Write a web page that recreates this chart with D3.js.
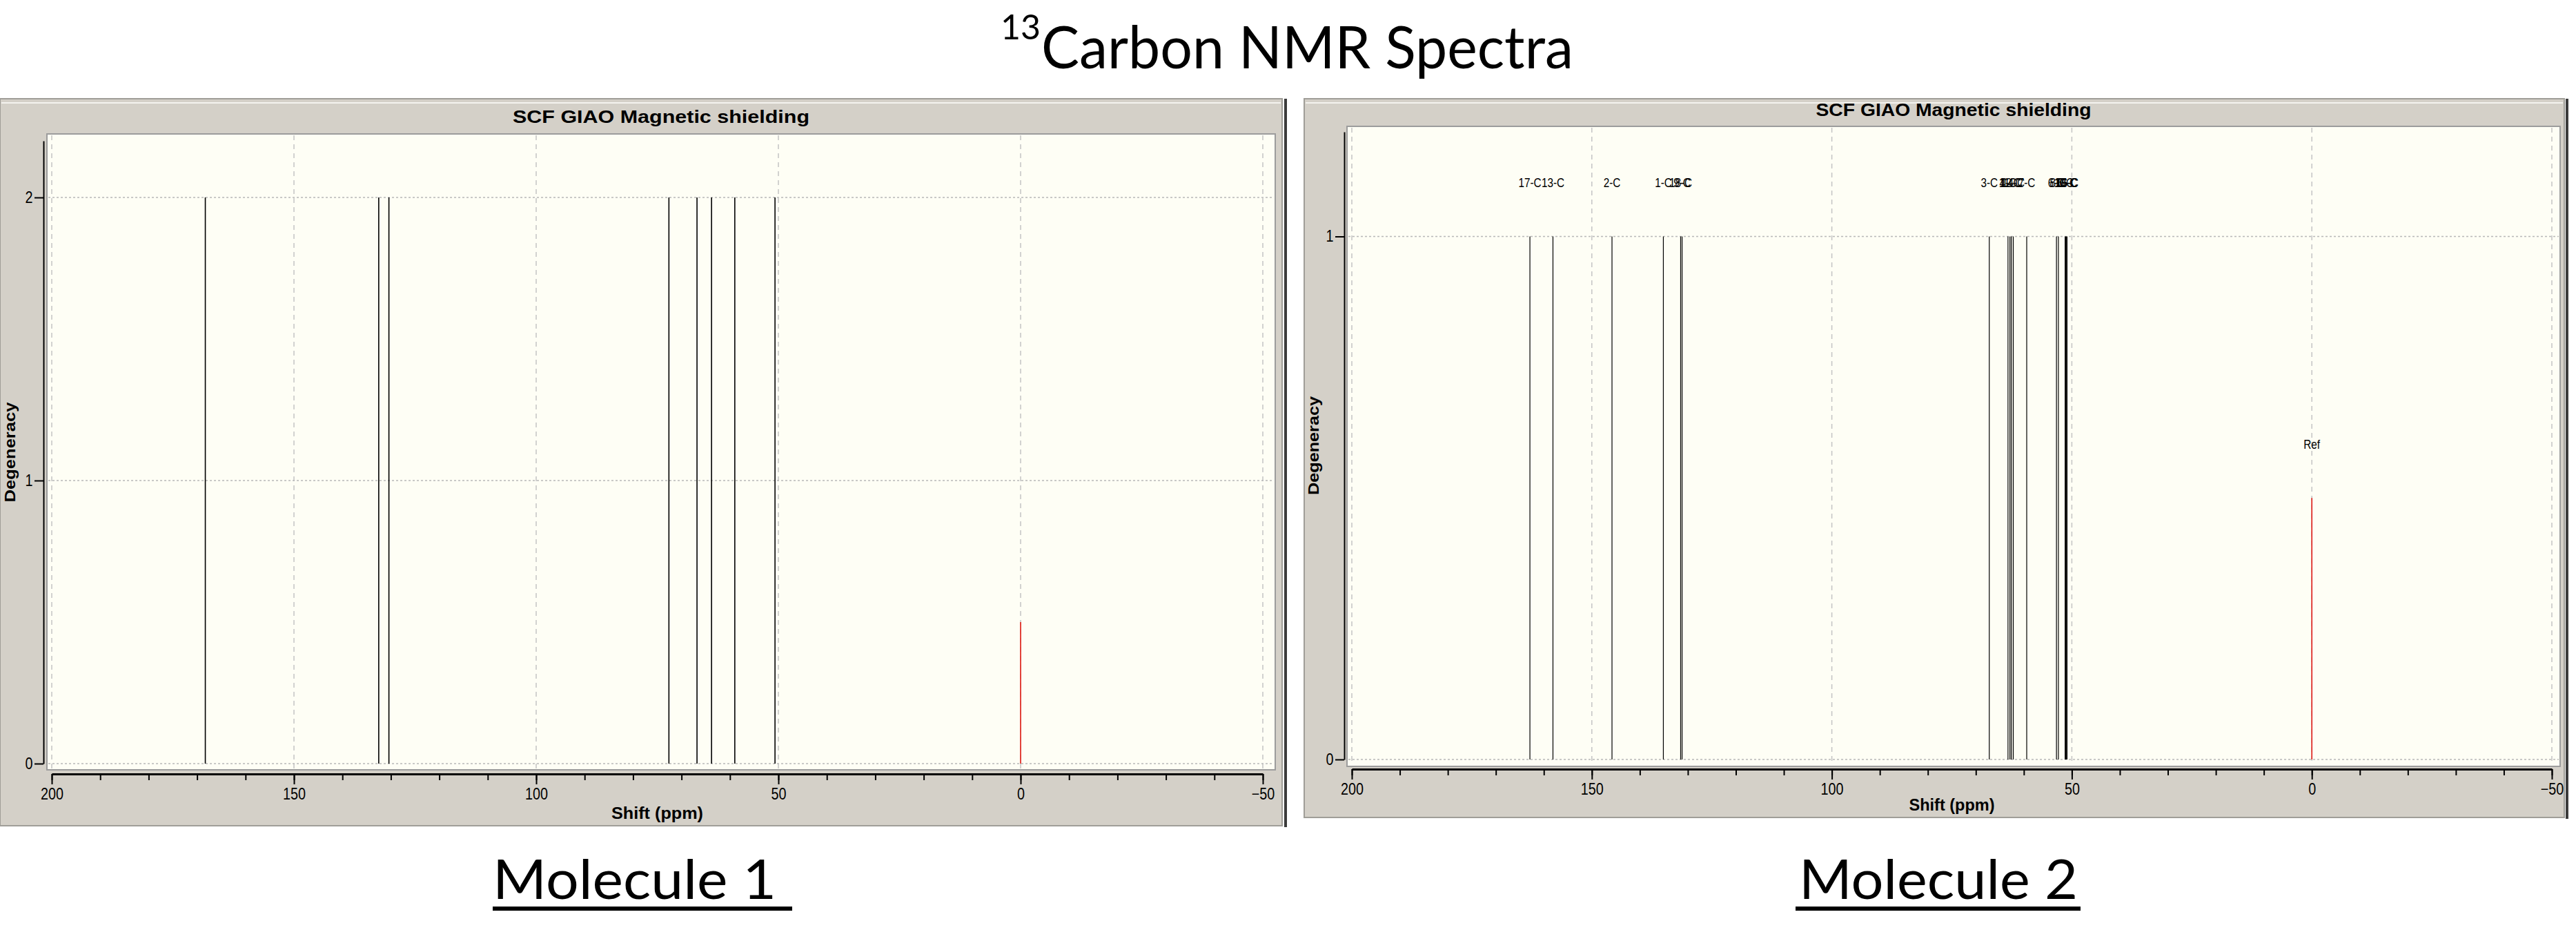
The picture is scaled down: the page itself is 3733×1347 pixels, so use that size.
<!DOCTYPE html>
<html>
<head>
<meta charset="utf-8">
<script src="https://cdn.jsdelivr.net/npm/d3@7"></script>
<style>
  body { margin: 0; background: #fff; }
  svg { display: block; }
</style>
</head>
<body>
<svg id="chart" width="3733" height="1347"></svg>
<script>
// --- data ---

// molecule 1: shift (ppm) and degeneracy of each line
const mol1Shifts = [168.3, 132.5, 130.4, 72.6, 66.8, 63.8, 59.0, 50.7];
const mol1Degeneracy = [2, 2, 2, 2, 2, 2, 2, 2];

// molecule 2: labelled lines
const mol2Labels = ["17-C", "13-C", "2-C", "1-C", "18-C", "9-C",
  "3-C", "4-C", "11-C", "12-C", "14-C", "7-C", "6-C", "8-C", "5-C", "10-C", "15-C", "16-C"];
const mol2Shifts = [162.9, 158.1, 145.8, 135.1, 131.5, 131.2,
  67.2, 63.3, 62.9, 62.6, 62.2, 59.4, 53.2, 52.8, 51.4, 51.3, 51.1, 51.0];
const mol2Degeneracy = [1, 1, 1, 1, 1, 1, 1, 1, 1, 1, 1, 1, 1, 1, 1, 1, 1, 1];

// TMS reference line (drawn red)
const refShift = 0;
const refHeight = 0.5;
const refLabel = "Ref";

// axes
const shiftDomain = [200, -50];
const shiftMajorTicks = [200, 150, 100, 50, 0, -50];
const mol1YMax = 2.2;
const mol2YMax = 1.2;
const mol1YTicks = [0, 1, 2];
const mol2YTicks = [0, 1];

const panelTitle = "SCF GIAO Magnetic shielding";
const xTitle = "Shift (ppm)";
const yTitle = "Degeneracy";
const moleculeNames = ["Molecule 1", "Molecule 2"];

// --- layout (pixel boxes of each GaussView window) ---
const panels = [
  {
    name: moleculeNames[0],
    shifts: mol1Shifts, degen: mol1Degeneracy, labels: null, yMax: mol1YMax, yTicks: mol1YTicks,
    frame: { x0: 0, y0: 143, x1: 1858, y1: 1196 }, sep: 1863,
    plot: { x0: 68, y0: 194, x1: 1848, y1: 1115 },
    xr: [75, 1830], yr: [1106, 204],
    yAxisX: 63, xAxisY: 1121, lineW: 1.6,
    titleY: 171, titleLen: 430,
    xTitleY: 1180, xTitleLen: 133,
    yTitleX: 16, yTitleLen: 145,
    capX: 714, capLen: 411, ulX0: 714, ulX1: 1148
  },
  {
    name: moleculeNames[1],
    shifts: mol2Shifts, degen: mol2Degeneracy, labels: mol2Labels, yMax: mol2YMax, yTicks: mol2YTicks,
    frame: { x0: 1890, y0: 143, x1: 3716, y1: 1184 }, sep: 3720,
    plot: { x0: 1952, y0: 183, x1: 3710, y1: 1110 },
    xr: [1959, 3698], yr: [1100, 191],
    yAxisX: 1948, xAxisY: 1114, lineW: 1.2,
    titleY: 161, titleLen: 399,
    xTitleY: 1168, xTitleLen: 124,
    yTitleX: 1905, yTitleLen: 143,
    capX: 2607, capLen: 404, ulX0: 2602, ulX1: 3015
  }
];

const svg = d3.select("#chart");
const guiFont = "'Liberation Sans', Arial, sans-serif";
const slideFont = "Lato, 'Open Sans', sans-serif";

// main title: 13Carbon NMR Spectra
svg.append("text")
  .attr("x", 1450).attr("y", 57)
  .attr("font-family", slideFont).attr("font-size", 50)
  .text("13");
svg.append("text")
  .attr("x", 1509).attr("y", 99)
  .attr("font-family", slideFont).attr("font-size", 85)
  .attr("textLength", 771).attr("lengthAdjust", "spacingAndGlyphs")
  .text("Carbon NMR Spectra");

panels.forEach(p => {
  const g = svg.append("g");
  const x = d3.scaleLinear().domain(shiftDomain).range(p.xr);
  const y = d3.scaleLinear().domain([0, p.yMax]).range(p.yr);
  const f = p.frame;

  // window frame
  g.append("rect")
    .attr("x", f.x0).attr("y", f.y0)
    .attr("width", f.x1 - f.x0).attr("height", f.y1 - f.y0)
    .attr("fill", "#d4d0c8").attr("stroke", "#a09e98").attr("stroke-width", 2);
  g.append("line")
    .attr("x1", f.x0 + 2).attr("x2", f.x1 - 2)
    .attr("y1", f.y0 + 6).attr("y2", f.y0 + 6)
    .attr("stroke", "#f4f3ef").attr("stroke-width", 2);
  g.append("line")
    .attr("x1", p.sep).attr("x2", p.sep)
    .attr("y1", f.y0).attr("y2", f.y1 + 2)
    .attr("stroke", "#3c3c3c").attr("stroke-width", 4);

  // window title
  g.append("text")
    .attr("x", (p.plot.x0 + p.plot.x1) / 2).attr("y", p.titleY)
    .attr("text-anchor", "middle").attr("dominant-baseline", "middle")
    .attr("font-family", guiFont).attr("font-weight", "bold").attr("font-size", 26)
    .attr("textLength", p.titleLen).attr("lengthAdjust", "spacingAndGlyphs")
    .text(panelTitle);

  // plot area
  g.append("rect")
    .attr("x", p.plot.x0).attr("y", p.plot.y0)
    .attr("width", p.plot.x1 - p.plot.x0).attr("height", p.plot.y1 - p.plot.y0)
    .attr("fill", "#fefef5").attr("stroke", "#9c9c9c").attr("stroke-width", 2);

  // grid
  g.append("g").selectAll("line")
    .data(shiftMajorTicks)
    .join("line")
    .attr("x1", d => x(d)).attr("x2", d => x(d))
    .attr("y1", p.plot.y0 + 2).attr("y2", p.plot.y1 - 2)
    .attr("stroke", "#c4c4c4").attr("stroke-width", 1.5)
    .attr("stroke-dasharray", "7,6");
  g.append("g").selectAll("line")
    .data(p.yTicks)
    .join("line")
    .attr("x1", p.plot.x0 + 2).attr("x2", p.plot.x1 - 2)
    .attr("y1", d => y(d)).attr("y2", d => y(d))
    .attr("stroke", "#b8b8b8").attr("stroke-width", 1.5)
    .attr("stroke-dasharray", "3,3");

  // spectral lines
  const peaks = p.shifts.map((s, i) => ({ shift: s, degen: p.degen[i], label: p.labels ? p.labels[i] : null }));
  g.append("g").selectAll("line")
    .data(peaks)
    .join("line")
    .attr("x1", d => x(d.shift)).attr("x2", d => x(d.shift))
    .attr("y1", y(0)).attr("y2", d => y(d.degen))
    .attr("stroke", "#000").attr("stroke-width", p.lineW);

  // reference line
  g.append("line")
    .attr("x1", x(refShift)).attr("x2", x(refShift))
    .attr("y1", y(0)).attr("y2", y(refHeight))
    .attr("stroke", "#e0302a").attr("stroke-width", 1.8);

  // line labels (only the second spectrum has them)
  if (p.labels) {
    g.append("g").selectAll("text")
      .data(peaks)
      .join("text")
      .attr("transform", d => `translate(${x(d.shift)},${y(d.degen + 0.1)}) scale(0.85,1)`)
      .attr("text-anchor", "middle").attr("dominant-baseline", "middle")
      .attr("font-family", guiFont).attr("font-size", 18)
      .text(d => d.label);
    g.append("text")
      .attr("transform", `translate(${x(refShift)},${y(refHeight + 0.1)}) scale(0.85,1)`)
      .attr("text-anchor", "middle").attr("dominant-baseline", "middle")
      .attr("font-family", guiFont).attr("font-size", 18)
      .text(refLabel);
  }

  // y axis
  const yAxis = g.append("g")
    .attr("transform", `translate(${p.yAxisX},0)`)
    .call(d3.axisLeft(y).tickValues(p.yTicks).tickFormat(d3.format("d")).tickSize(13).tickSizeOuter(0).tickPadding(5));
  yAxis.select(".domain").attr("stroke", "#000").attr("stroke-width", 2);
  yAxis.selectAll(".tick line").attr("stroke", "#000").attr("stroke-width", 2);
  yAxis.selectAll(".tick text")
    .attr("font-family", guiFont).attr("font-size", 23).attr("fill", "#000")
    .attr("transform", "scale(0.86,1)");

  // x axis: minor ticks every 10 ppm, majors every 50 ppm
  const xMinor = g.append("g")
    .attr("transform", `translate(0,${p.xAxisY})`)
    .call(d3.axisBottom(x).ticks(25).tickFormat("").tickSize(9).tickSizeOuter(0));
  xMinor.select(".domain").attr("stroke", "#000").attr("stroke-width", 3);
  xMinor.selectAll(".tick line").attr("stroke", "#000").attr("stroke-width", 2);
  const xMajor = g.append("g")
    .attr("transform", `translate(0,${p.xAxisY})`)
    .call(d3.axisBottom(x).tickValues(shiftMajorTicks).tickFormat(d3.format("d")).tickSize(15).tickSizeOuter(0).tickPadding(6));
  xMajor.select(".domain").remove();
  xMajor.selectAll(".tick line").attr("stroke", "#000").attr("stroke-width", 2);
  xMajor.selectAll(".tick text")
    .attr("font-family", guiFont).attr("font-size", 23).attr("fill", "#000")
    .attr("transform", "scale(0.86,1)");

  // axis titles
  g.append("text")
    .attr("x", (p.xr[0] + p.xr[1]) / 2).attr("y", p.xTitleY)
    .attr("text-anchor", "middle").attr("dominant-baseline", "middle")
    .attr("font-family", guiFont).attr("font-weight", "bold").attr("font-size", 23)
    .attr("textLength", p.xTitleLen).attr("lengthAdjust", "spacingAndGlyphs")
    .text(xTitle);
  g.append("text")
    .attr("transform", `translate(${p.yTitleX},${(p.yr[0] + p.yr[1]) / 2}) rotate(-90)`)
    .attr("text-anchor", "middle").attr("dominant-baseline", "middle")
    .attr("font-family", guiFont).attr("font-weight", "bold").attr("font-size", 22)
    .attr("textLength", p.yTitleLen).attr("lengthAdjust", "spacingAndGlyphs")
    .text(yTitle);

  // molecule caption, underlined
  svg.append("text")
    .attr("x", p.capX).attr("y", 1302)
    .attr("font-family", slideFont).attr("font-size", 80)
    .attr("textLength", p.capLen).attr("lengthAdjust", "spacingAndGlyphs")
    .text(p.name);
  svg.append("rect")
    .attr("x", p.ulX0).attr("y", 1313)
    .attr("width", p.ulX1 - p.ulX0).attr("height", 6)
    .attr("fill", "#000");
});
</script>
</body>
</html>
